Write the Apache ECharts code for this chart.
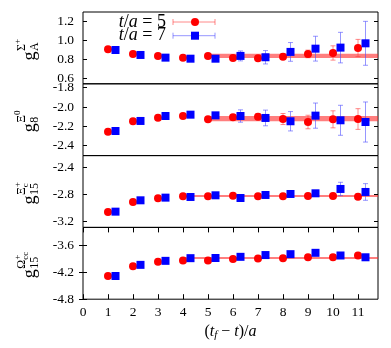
<!DOCTYPE html>
<html>
<head>
<meta charset="utf-8">
<script src="https://cdn.jsdelivr.net/npm/echarts@6/dist/echarts.min.js"></script>
<style>
html,body{margin:0;padding:0;background:#fff;}
#c{width:391px;height:348px;}
</style>
</head>
<body>
<div id="c"></div>
<script>
// ---- data ----
const tSep = [1, 2, 3, 4, 5, 6, 7, 8, 9, 10, 11];
const xTicks = [0, 1, 2, 3, 4, 5, 6, 7, 8, 9, 10, 11];

// panel 1: g_A^{Sigma+}
const gA_t5 = [0.904, 0.855, 0.834, 0.816, 0.834, 0.813, 0.809, 0.826, 0.855, 0.865, 0.917];
const gA_t5err = [0.006, 0.007, 0.008, 0.010, 0.012, 0.015, 0.020, 0.025, 0.040, 0.075, 0.090];
const gA_t7 = [0.896, 0.844, 0.816, 0.805, 0.805, 0.834, 0.820, 0.876, 0.910, 0.921, 0.966];
const gA_t7err = [0.008, 0.010, 0.012, 0.015, 0.020, 0.052, 0.070, 0.098, 0.130, 0.160, 0.230];
const gA_fit = [5, 0.834, 0.022];
const gA_ticks = [0.6, 0.8, 1.0, 1.2];

// panel 2: g_8^{Xi0}
const g8_t5 = [-2.255, -2.147, -2.110, -2.093, -2.127, -2.106, -2.100, -2.124, -2.155, -2.127, -2.124];
const g8_t5err = [0.006, 0.008, 0.010, 0.012, 0.015, 0.020, 0.030, 0.057, 0.070, 0.088, 0.107];
const g8_t7 = [-2.248, -2.144, -2.093, -2.079, -2.086, -2.093, -2.113, -2.147, -2.089, -2.137, -2.155];
const g8_t7err = [0.008, 0.010, 0.012, 0.015, 0.025, 0.064, 0.081, 0.100, 0.130, 0.155, 0.207];
const g8_fit = [5, -2.120, 0.028];
const g8_ticks = [-2.4, -2.2, -2.0, -1.8];

// panel 3: g_15^{Xi_c+}
const g15xi_t5 = [-3.065, -2.915, -2.860, -2.830, -2.830, -2.820, -2.830, -2.830, -2.825, -2.825, -2.835];
const g15xi_t5err = [0.005, 0.006, 0.007, 0.008, 0.010, 0.010, 0.012, 0.015, 0.018, 0.020, 0.035];
const g15xi_t7 = [-3.060, -2.890, -2.850, -2.840, -2.815, -2.855, -2.810, -2.795, -2.785, -2.720, -2.765];
const g15xi_t7err = [0.006, 0.008, 0.010, 0.012, 0.015, 0.018, 0.020, 0.025, 0.035, 0.100, 0.125];
const g15xi_fit = [4, -2.825, 0.012];
const g15xi_ticks = [-3.2, -2.8, -2.4];

// panel 4: g_15^{Omega_cc+}
const g15om_t5 = [-4.28, -4.06, -3.96, -3.93, -3.93, -3.90, -3.89, -3.88, -3.86, -3.86, -3.82];
const g15om_t5err = [0.008, 0.010, 0.010, 0.012, 0.012, 0.014, 0.016, 0.018, 0.020, 0.022, 0.026];
const g15om_t7 = [-4.28, -4.03, -3.94, -3.88, -3.876, -3.85, -3.81, -3.79, -3.76, -3.82, -3.86];
const g15om_t7err = [0.010, 0.012, 0.014, 0.016, 0.018, 0.020, 0.024, 0.028, 0.032, 0.036, 0.040];
const g15om_fit = [4, -3.875, 0.020];
const g15om_ticks = [-4.8, -4.2, -3.6];

const legendLabels = ['5', '7'];

// ---- layout / styles ----
const FONT = '"Liberation Serif", "DejaVu Serif", serif';
const LEFT = 83, RIGHT = 13, TOP = 12, H = 71.8;
const XMAX = 11.8;
const BLUE_OFFSET = 0.3;
const RED = '#ff0000', BLUE = '#0000ff';
const RED_ERR = 'rgba(255,60,60,0.6)', BLUE_ERR = 'rgba(80,80,255,0.6)';
const BAND = 'rgba(255,40,40,0.6)';

const panels = [
  {t5: gA_t5, e5: gA_t5err, t7: gA_t7, e7: gA_t7err, fit: gA_fit, ticks: gA_ticks, min: 0.542, max: 1.294,
   lab: {sub: 'A', base: 'Σ', sup: '+', bsub: ''}},
  {t5: g8_t5, e5: g8_t5err, t7: g8_t7, e7: g8_t7err, fit: g8_fit, ticks: g8_ticks, min: -2.502, max: -1.76,
   lab: {sub: '8', base: 'Ξ', sup: '0', bsub: ''}},
  {t5: g15xi_t5, e5: g15xi_t5err, t7: g15xi_t7, e7: g15xi_t7err, fit: g15xi_fit, ticks: g15xi_ticks, min: -3.296, max: -2.22,
   lab: {sub: '15', base: 'Ξ', sup: '+', bsub: 'c'}},
  {t5: g15om_t5, e5: g15om_t5err, t7: g15om_t7, e7: g15om_t7err, fit: g15om_fit, ticks: g15om_ticks, min: -4.8, max: -3.19,
   lab: {sub: '15', base: 'Ω', sup: '+', bsub: 'cc'}}
];

function errRenderer(color) {
  return function (params, api) {
    const x = api.value(0), y = api.value(1), e = api.value(2);
    const a = api.coord([x, y + e]), b = api.coord([x, y - e]);
    const c = 2.5;
    const st = {stroke: color, lineWidth: 1};
    return {type: 'group', children: [
      {type: 'line', shape: {x1: a[0], y1: a[1], x2: b[0], y2: b[1]}, style: st},
      {type: 'line', shape: {x1: a[0] - c, y1: a[1], x2: a[0] + c, y2: a[1]}, style: st},
      {type: 'line', shape: {x1: b[0] - c, y1: b[1], x2: b[0] + c, y2: b[1]}, style: st}
    ]};
  };
}
function bandRenderer(params, api) {
  const x0 = api.value(0), x1 = api.value(1), v = api.value(2), e = api.value(3);
  const p = api.coord([x0, v + e]), q = api.coord([x1, v - e]);
  let h = q[1] - p[1];
  let y = p[1];
  if (h < 2) { y = (p[1] + q[1]) / 2 - 1; h = 2; }
  return {type: 'rect', shape: {x: p[0], y: y, width: q[0] - p[0], height: h}, style: {fill: BAND}};
}

const grid = [], xAxis = [], yAxis = [], series = [];
panels.forEach((P, i) => {
  grid.push({left: LEFT, right: RIGHT, top: TOP + i * H, height: H, show: true, borderColor: '#000', borderWidth: 1, backgroundColor: 'transparent'});
  const isBottom = i === panels.length - 1;
  xAxis.push({
    gridIndex: i, type: 'value', min: 0, max: XMAX, position: 'bottom',
    axisLine: {show: false}, splitLine: {show: false},
    axisTick: {show: isBottom, inside: true, length: 5, customValues: xTicks, lineStyle: {color: '#000'}},
    axisLabel: {show: isBottom, customValues: xTicks, margin: 6, fontFamily: FONT, fontSize: 13.5, color: '#000'},
    name: isBottom ? '{n|(}{i|t}{s|f}{n| − }{i|t}{n|)/}{i|a}' : '',
    nameLocation: 'middle', nameGap: 24,
    nameTextStyle: {
      fontFamily: FONT, fontSize: 16, color: '#000',
      rich: {
        n: {fontFamily: FONT, fontSize: 16, color: '#000'},
        i: {fontFamily: FONT, fontSize: 16, fontStyle: 'italic', color: '#000'},
        s: {fontFamily: FONT, fontSize: 11, fontStyle: 'italic', color: '#000', verticalAlign: 'bottom', padding: [6, 0, 0, 0]}
      }
    }
  });
  yAxis.push({
    gridIndex: i, type: 'value', min: P.min, max: P.max, position: 'left',
    axisLine: {show: false}, splitLine: {show: false},
    axisTick: {show: true, inside: true, length: 4, customValues: P.ticks, lineStyle: {color: '#000'}},
    axisLabel: {customValues: P.ticks, formatter: v => v.toFixed(1), margin: 9, fontFamily: FONT, fontSize: 13.5, color: '#000'}
  });
  series.push(
    {type: 'custom', xAxisIndex: i, yAxisIndex: i, renderItem: bandRenderer, z: 1, silent: true,
     encode: {x: [0, 1], y: 2}, data: [[P.fit[0], XMAX, P.fit[1], P.fit[2]]], clip: true},
    {type: 'custom', xAxisIndex: i, yAxisIndex: i, renderItem: errRenderer(RED_ERR), z: 2, silent: true,
     encode: {x: 0, y: 1}, data: tSep.map((t, k) => [t, P.t5[k], P.e5[k]]), clip: true},
    {type: 'custom', xAxisIndex: i, yAxisIndex: i, renderItem: errRenderer(BLUE_ERR), z: 2, silent: true,
     encode: {x: 0, y: 1}, data: tSep.map((t, k) => [t + BLUE_OFFSET, P.t7[k], P.e7[k]]), clip: true},
    {type: 'scatter', xAxisIndex: i, yAxisIndex: i, symbol: 'circle', symbolSize: 8, z: 3,
     itemStyle: {color: RED, opacity: 1}, data: tSep.map((t, k) => [t, P.t5[k]])},
    {type: 'scatter', xAxisIndex: i, yAxisIndex: i, symbol: 'rect', symbolSize: 8, z: 4,
     itemStyle: {color: BLUE, opacity: 1}, data: tSep.map((t, k) => [t + BLUE_OFFSET, P.t7[k]])}
  );
});
// mirrored ticks
panels.forEach((P, i) => {
  yAxis.push({
    gridIndex: i, type: 'value', min: P.min, max: P.max, position: 'right',
    axisLine: {show: false}, splitLine: {show: false}, axisLabel: {show: false},
    axisTick: {show: true, inside: true, length: 4, customValues: P.ticks, lineStyle: {color: '#000'}}
  });
});
xAxis.push({
  gridIndex: panels.length - 1, type: 'value', min: 0, max: XMAX, position: 'top',
  axisLine: {show: false}, splitLine: {show: false}, axisLabel: {show: false},
  axisTick: {show: true, inside: true, length: 5, customValues: xTicks, lineStyle: {color: '#000'}}
});

// text measuring helper
const mctx = document.createElement('canvas').getContext('2d');
function tw(txt, size) { mctx.font = size + 'px ' + FONT; return mctx.measureText(txt).width; }

const graphic = [];
panels.forEach((P, i) => {
  const L = P.lab;
  const gS = 18, sS = 12, ssS = 9;
  const gW = tw('g', gS);
  const bW = tw(L.base, sS);
  const rest = Math.max(tw(L.sub, sS), bW + Math.max(tw(L.sup, ssS), tw(L.bsub, ssS)));
  const W = gW + rest;
  const x0 = -W / 2;
  const cy = TOP + (i + 0.5) * H + 2;
  const txt = (s, size, x, y) => ({type: 'text', x: x, y: y,
    style: {text: s, font: size + 'px ' + FONT, fill: '#000', align: 'left', verticalAlign: 'middle'}});
  const ch = [txt('g', gS, x0, 0), txt(L.sub, sS, x0 + gW + 0.5, 5), txt(L.base, sS, x0 + gW + 0.5, -8),
    txt(L.sup, ssS, x0 + gW + 0.5 + bW, -12)];
  if (L.bsub) ch.push(txt(L.bsub, ssS, x0 + gW + 0.5 + bW, -4));
  graphic.push({type: 'group', x: 30, y: cy, rotation: Math.PI / 2, children: ch});
});

// legend (drawn as key samples)
const legY = [22, 35.7];
const legCols = [RED, BLUE], legErr = [RED_ERR, BLUE_ERR];
legendLabels.forEach((lab, k) => {
  const y = legY[k];
  graphic.push({type: 'text', x: 166, y: y,
    style: {text: '{i|t}{n|/}{i|a}{n| = ' + lab + '}', align: 'right', verticalAlign: 'middle',
      rich: {i: {fontFamily: FONT, fontSize: 18, fontStyle: 'italic', fill: '#000'},
             n: {fontFamily: FONT, fontSize: 18, fill: '#000'}}}});
  const st = {stroke: legErr[k], lineWidth: 1};
  graphic.push({type: 'line', shape: {x1: 173, y1: y, x2: 215, y2: y}, style: st});
  graphic.push({type: 'line', shape: {x1: 173, y1: y - 3, x2: 173, y2: y + 3}, style: st});
  graphic.push({type: 'line', shape: {x1: 215, y1: y - 3, x2: 215, y2: y + 3}, style: st});
  if (k === 0) graphic.push({type: 'circle', shape: {cx: 195, cy: y, r: 4}, style: {fill: legCols[k]}});
  else graphic.push({type: 'rect', shape: {x: 191, y: y - 4, width: 8, height: 8}, style: {fill: legCols[k]}});
});

const chart = echarts.init(document.getElementById('c'), null, {renderer: 'canvas'});
chart.setOption({
  animation: false,
  backgroundColor: '#fff',
  grid, xAxis, yAxis, series, graphic
});
</script>
</body>
</html>
